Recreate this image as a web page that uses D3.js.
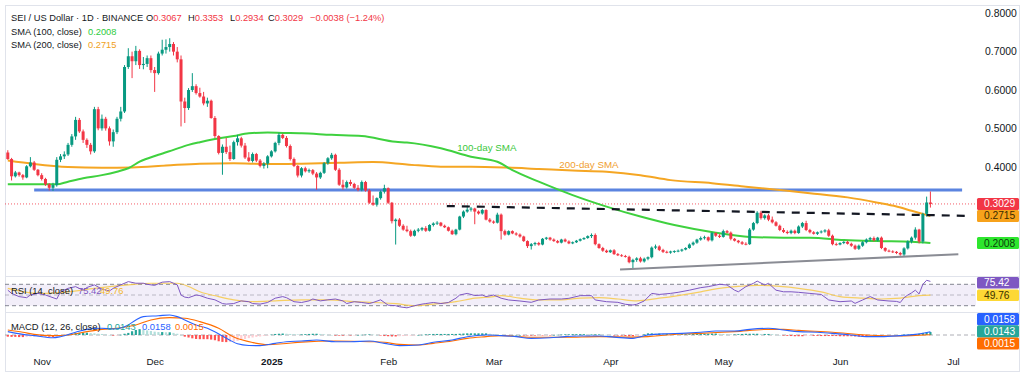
<!DOCTYPE html>
<html><head><meta charset="utf-8">
<script src="https://cdn.jsdelivr.net/npm/d3@7"></script>
<style>
html,body{margin:0;padding:0;background:#fff;overflow:hidden;}
svg{display:block;font-family:"Liberation Sans",Arial,sans-serif;}
</style></head><body>
<svg id="chart" width="1024" height="377"></svg>
<script>
// ---------------- DATA ----------------
const startDate = "2024-10-23";           // first daily candle
const symbolTitle = "SEI / US Dollar · 1D · BINANCE";
// daily candles [open, high, low, close]
const ohlc = [
[.437,.443,.418,.420],[.420,.423,.364,.375],[.375,.389,.372,.385],[.385,.387,.374,.378],[.378,.381,.366,.372],
[.372,.404,.370,.401],[.401,.425,.398,.411],[.411,.415,.389,.392],[.392,.394,.375,.378],[.378,.383,.364,.368],
[.368,.371,.350,.354],[.354,.357,.338,.345],[.345,.358,.337,.352],[.352,.425,.348,.418],[.418,.433,.412,.427],
[.427,.440,.420,.432],[.432,.462,.428,.457],[.457,.485,.452,.479],[.479,.530,.470,.522],[.522,.527,.488,.492],
[.492,.497,.462,.470],[.470,.474,.449,.457],[.457,.462,.432,.440],[.440,.556,.436,.550],[.550,.556,.495,.500],
[.500,.536,.494,.525],[.525,.530,.494,.500],[.500,.505,.455,.466],[.466,.497,.452,.490],[.490,.530,.485,.525],
[.525,.556,.518,.544],[.544,.665,.540,.660],[.660,.709,.655,.688],[.688,.700,.631,.675],[.675,.715,.665,.702],
[.702,.706,.655,.665],[.665,.686,.654,.668],[.668,.690,.660,.683],[.683,.690,.645,.652],[.652,.660,.595,.644],
[.644,.700,.640,.695],[.695,.731,.690,.705],[.705,.732,.695,.712],[.712,.735,.700,.720],[.720,.725,.690,.700],
[.700,.712,.672,.680],[.680,.690,.505,.570],[.570,.580,.514,.553],[.553,.605,.548,.600],[.600,.644,.595,.610],
[.610,.615,.588,.592],[.592,.606,.580,.583],[.583,.595,.560,.565],[.565,.580,.556,.572],[.572,.575,.525,.527],
[.527,.532,.475,.480],[.480,.482,.432,.436],[.436,.458,.379,.452],[.452,.475,.433,.438],[.438,.455,.415,.420],
[.420,.468,.418,.464],[.464,.483,.455,.474],[.474,.478,.450,.455],[.455,.462,.420,.424],[.424,.438,.412,.415],
[.415,.437,.411,.433],[.433,.436,.412,.416],[.416,.420,.398,.402],[.402,.412,.395,.408],[.408,.430,.396,.427],
[.427,.443,.424,.440],[.440,.465,.437,.462],[.462,.488,.456,.483],[.483,.486,.472,.475],[.475,.480,.450,.454],
[.454,.458,.416,.420],[.420,.424,.399,.402],[.402,.404,.372,.377],[.377,.399,.372,.396],[.396,.400,.385,.388],
[.388,.395,.384,.391],[.391,.394,.378,.382],[.382,.386,.340,.372],[.372,.387,.368,.384],[.384,.412,.381,.409],
[.409,.425,.405,.422],[.422,.436,.418,.431],[.431,.434,.389,.392],[.392,.396,.350,.353],[.353,.366,.340,.346],
[.346,.364,.343,.360],[.360,.366,.350,.355],[.355,.358,.342,.345],[.345,.352,.336,.340],[.340,.364,.336,.360],
[.360,.363,.335,.338],[.338,.342,.303,.306],[.306,.325,.298,.301],[.301,.320,.296,.318],[.318,.338,.314,.335],
[.335,.353,.330,.344],[.344,.346,.303,.306],[.306,.308,.252,.258],[.258,.265,.197,.262],[.262,.266,.243,.246],
[.246,.250,.233,.236],[.236,.246,.229,.232],[.232,.236,.217,.220],[.220,.236,.218,.233],[.233,.240,.229,.236],
[.236,.243,.232,.240],[.240,.245,.230,.233],[.233,.250,.231,.248],[.248,.255,.244,.252],[.252,.258,.248,.254],
[.254,.256,.244,.246],[.246,.249,.240,.242],[.242,.244,.231,.233],[.233,.236,.222,.224],[.224,.238,.221,.236],
[.236,.272,.234,.270],[.270,.286,.266,.283],[.283,.299,.280,.288],[.288,.295,.283,.291],[.291,.293,.250,.283],
[.283,.286,.275,.278],[.278,.290,.275,.287],[.287,.289,.260,.262],[.262,.266,.254,.257],[.257,.260,.251,.254],
[.254,.280,.252,.275],[.275,.278,.210,.232],[.232,.236,.220,.223],[.223,.234,.221,.232],[.232,.234,.224,.226],
[.226,.229,.220,.223],[.223,.226,.215,.218],[.218,.220,.204,.206],[.206,.208,.188,.193],[.193,.201,.184,.198],
[.198,.204,.194,.201],[.201,.204,.194,.197],[.197,.214,.195,.212],[.212,.217,.209,.215],[.215,.217,.207,.210],
[.210,.213,.204,.206],[.206,.209,.200,.202],[.202,.212,.200,.210],[.210,.213,.203,.205],[.205,.208,.198,.200],
[.200,.205,.198,.203],[.203,.209,.201,.207],[.207,.213,.205,.211],[.211,.216,.209,.214],[.214,.221,.212,.219],
[.219,.226,.214,.222],[.222,.226,.195,.198],[.198,.200,.186,.188],[.188,.191,.178,.181],[.181,.184,.175,.177],
[.177,.184,.175,.182],[.182,.185,.170,.172],[.172,.175,.167,.169],[.169,.172,.165,.167],[.167,.170,.163,.165],
[.165,.168,.148,.151],[.151,.160,.134,.157],[.157,.164,.152,.161],[.161,.165,.150,.153],[.153,.163,.150,.160],
[.160,.166,.156,.164],[.164,.192,.161,.189],[.189,.197,.185,.192],[.192,.195,.180,.183],[.183,.186,.175,.178],
[.178,.181,.174,.176],[.176,.181,.173,.179],[.179,.182,.175,.180],[.180,.184,.177,.181],[.181,.186,.178,.184],
[.184,.190,.182,.188],[.188,.200,.186,.197],[.197,.205,.194,.202],[.202,.212,.199,.210],[.210,.218,.207,.214],
[.214,.220,.210,.216],[.216,.218,.205,.208],[.208,.230,.205,.227],[.227,.229,.217,.220],[.220,.224,.214,.217],
[.217,.236,.215,.232],[.232,.235,.226,.228],[.228,.231,.208,.212],[.212,.214,.205,.207],[.207,.209,.200,.203],
[.203,.206,.196,.199],[.199,.203,.195,.198],[.198,.240,.196,.236],[.236,.256,.233,.253],[.253,.284,.250,.280],
[.280,.285,.262,.266],[.266,.276,.262,.273],[.273,.277,.258,.262],[.262,.270,.252,.255],[.255,.258,.244,.246],
[.246,.249,.232,.235],[.235,.240,.227,.230],[.230,.234,.224,.227],[.227,.236,.224,.233],[.233,.236,.224,.227],
[.227,.247,.225,.244],[.244,.256,.240,.253],[.253,.259,.232,.235],[.235,.238,.226,.229],[.229,.232,.223,.225],
[.225,.231,.222,.229],[.229,.234,.226,.231],[.231,.237,.228,.234],[.234,.238,.217,.220],[.220,.223,.195,.198],
[.198,.202,.194,.197],[.197,.203,.195,.201],[.201,.206,.198,.204],[.204,.207,.197,.199],[.199,.202,.191,.194],
[.194,.197,.183,.186],[.186,.197,.183,.194],[.194,.206,.191,.203],[.203,.213,.200,.210],[.210,.217,.206,.214],
[.214,.218,.205,.208],[.208,.217,.205,.215],[.215,.218,.185,.188],[.188,.190,.178,.181],[.181,.184,.177,.179],
[.179,.182,.175,.178],[.178,.180,.172,.175],[.175,.178,.168,.171],[.171,.190,.166,.187],[.187,.208,.184,.205],
[.205,.218,.200,.215],[.215,.242,.210,.236],[.236,.238,.200,.205],[.205,.280,.200,.277],[.277,.322,.270,.3067],
[.3067,.3353,.2934,.3029]
];
// moving averages: [day offset from startDate, value]
const sma100Points = [[0,.354],[13,.354],[16,.361],[20,.370],[25,.378],[29,.387],[32,.396],[35,.413],[40,.431],[44,.444],[48,.457],[51,.464],[55,.472],[60,.480],[64,.487],[69,.489],[73,.488],[78,.487],[86,.483],[94,.480],[103,.465],[106,.463],[115,.448],[123,.426],[130,.413],[134,.391],[141,.361],[150,.326],[159,.296],[168,.270],[177,.248],[188,.228],[197,.217],[206,.215],[213,.215],[222,.209],[231,.206],[240,.204],[245,.2008]];
const sma200Points = [[0,.416],[7,.407],[16,.399],[25,.397],[33,.398],[42,.403],[51,.408],[60,.409],[69,.407],[78,.408],[88,.410],[97,.412],[106,.406],[115,.400],[123,.400],[132,.398],[141,.394],[150,.390],[159,.387],[168,.378],[176,.365],[187,.357],[196,.348],[205,.339],[213,.331],[223,.320],[231,.306],[236,.296],[240,.285],[245,.2715]];
// RSI (14) and its moving average
const rsiPoints = [[0,59],[1,53],[3,47],[5,45],[6,50],[8,53],[10,50],[12,45],[13,42.5],[14,56],[16,62.5],[18,65.6],[20,59],[21,64],[23,69],[25,61],[27,57.5],[28,62.5],[30,69],[32,75],[34,72],[36,72],[37,70],[39,68],[41,74],[43,75],[44,72],[45,69],[46,50],[47,46],[48,45],[50,50],[51,49],[53,44],[55,41],[57,34],[58,33],[60,34],[62,39],[64,37.5],[65,34],[67,33],[69,36],[71,44],[73,47],[74,45],[76,37.5],[78,36],[80,39],[81,42.5],[83,39],[85,41],[87,42.5],[89,39],[90,34],[92,37.5],[94,36],[96,34],[97,36],[99,41],[101,31],[103,30],[104,28],[106,26],[108,30],[110,33],[111,34],[113,36],[115,34],[117,36],[119,44],[120,50],[122,53],[124,49],[126,50],[127,47],[129,50],[131,44],[133,40.7],[136,38.8],[139,36.3],[141,40.7],[144,42.5],[147,42.5],[149,43.8],[152,48.8],[155,48.8],[156,40.7],[159,37.5],[162,36.3],[164,32.6],[166,31.3],[167,32.6],[169,38.8],[171,53],[173,51],[176,53],[178,55],[181,59],[184,63.7],[186,65.6],[189,70],[191,68.7],[193,59],[194,56],[196,65.6],[198,71.8],[199,76],[201,68.7],[202,71.8],[204,59],[206,56],[208,56],[210,55],[213,53],[216,51],[218,40.7],[221,37.5],[224,38.8],[225,34.4],[227,40.7],[229,47],[231,40.7],[234,38.8],[236,38],[237,36],[238,45],[239,50],[240,54],[241,59],[242,52],[243,70],[244,77.5],[245,75.42]];
const rsiMaPoints = [[0,62.5],[8,53],[16,56],[23,62.5],[32,69],[38,72],[45,72],[48,66],[51,56],[56,47],[60,41],[65,37.5],[71,39],[78,41],[85,41],[92,37.5],[97,36],[103,34],[108,30],[113,33],[119,37.5],[124,44],[129,47],[131,49],[136,44],[141,41],[147,41],[152,44],[157,45],[162,42.5],[167,39],[173,44],[178,49],[184,56],[189,62.5],[194,66],[199,68],[205,66],[210,62.5],[216,56],[221,47],[227,44],[232,42.5],[237,44],[242,49],[245,49.76]];
const rsiLevels = [70, 50, 30];
// MACD (12, 26)
const macdPoints = [[0,.016],[4,.003],[7,-.003],[12,-.013],[14,-.008],[18,.013],[21,.027],[25,.032],[28,.029],[32,.048],[34,.072],[36,.088],[40,.092],[43,.096],[45,.088],[47,.072],[50,.048],[53,.032],[57,-.005],[59,-.025],[61,-.042],[64,-.050],[67,-.051],[71,-.040],[74,-.032],[78,-.029],[82,-.024],[87,-.032],[91,-.032],[96,-.029],[100,-.040],[104,-.051],[109,-.048],[113,-.035],[118,-.024],[122,-.008],[127,0],[131,-.003],[135,-.008],[139,-.016],[144,-.013],[148,-.008],[152,-.005],[157,-.005],[161,-.010],[166,-.016],[170,0],[175,.006],[179,.008],[184,.013],[188,.019],[193,.019],[197,.027],[202,.032],[206,.024],[210,.016],[215,.013],[219,.008],[224,0],[228,-.008],[232,-.008],[237,-.003],[241,.003],[245,.0158]];
const signalPoints = [[0,.024],[4,.013],[7,.003],[12,-.003],[16,0],[21,.016],[25,.027],[29,.032],[34,.048],[38,.072],[43,.083],[47,.080],[51,.064],[56,.032],[60,-.010],[65,-.036],[69,-.046],[73,-.042],[78,-.034],[87,-.029],[96,-.032],[100,-.035],[104,-.045],[109,-.048],[113,-.040],[118,-.029],[122,-.016],[127,-.008],[131,-.003],[139,-.011],[148,-.011],[157,-.008],[166,-.010],[170,-.008],[175,0],[184,.008],[193,.016],[202,.027],[206,.027],[210,.022],[219,.013],[228,0],[237,-.005],[241,-.002],[245,.0015]];
const histUnit = 0.001;   // histogram values below are in thousandths
const macdHist = [
-8,-9,-9,-10,-10,-9,-8,-7,-6,-6, -7,-8,-10,-9,-7,-3,1,5,10,11, 11,11,9,8,6,5,3,0,-3,-2,
1,6,10,18,24,28,27,22,19,16, 14,14,13,13,10,6,0,-8,-12,-16, -19,-20,-20,-20,-22,-25,-30,-33,-34,-33,
-32,-28,-24,-19,-15,-12,-9,-7,-4,-1, 2,5,6,7,6,5,4,3,3,4, 5,6,6,5,3,1,0,-3,-3,-3,
-2,-2,-1,0,1,2,3,2,0,-2, -5,-6,-7,-7,-6,-5,-4,-3,-1,0, 1,3,4,5,5,5,5,5,5,5,
6,7,8,8,8,8,8,8,6,4, 2,0,-1,-1,0,0,0,-1,-2,-3, -3,-2,-2,-1,-1,0,1,2,3,3,
4,4,4,4,3,3,3,3,2,1, 0,-1,-2,-3,-5,-6,-6,-4,-1,3, 8,8,7,7,6,6,5,5,4,4,
4,4,5,5,5,6,6,7,7,6, 5,4,3,3,4,5,6,6,6,6, 5,5,5,4,2,0,-3,-4,-5,-6,
-6,-6,-5,-4,-4,-4,-5,-5,-5,-5, -5,-6,-6,-6,-6,-7,-8,-8,-8,-7, -6,-5,-5,-4,-3,-2,-1,0,2,2,
3,3,6,10,13,14.3];
// drawn levels / trend lines: [date, price]
const resistanceLine = [["2024-10-30T00:00Z", .339], ["2025-07-03T10:00Z", .339]];
const fallingLine    = [["2025-02-16T14:00Z", .2974], ["2025-07-04T05:00Z", .272]];
const supportLine    = [["2025-04-03T14:00Z", .132], ["2025-07-02T10:00Z", .172]];
const annotations = [
  {text:"100-day SMA", date:"2025-02-27T05:00Z", price:.451, color:"#3cc83c"},
  {text:"200-day SMA", date:"2025-03-26T08:00Z", price:.407, color:"#f0a030"}
];
const priceTicks = [0.4, 0.5, 0.6, 0.7, 0.8];
const tickDates  = ["2024-11-01","2024-12-01","2025-01-01","2025-02-01","2025-03-01","2025-04-01","2025-05-01","2025-06-01","2025-07-01"];
const tickLabels = ["Nov","Dec","2025","Feb","Mar","Apr","May","Jun","Jul"];

// ---------------- LAYOUT ----------------
const W = 1024, H = 377;
const plotL = 5, plotR = 976;
const paneMain = {top:5, bottom:276.5}, paneRsi = {top:277, bottom:312.5}, paneMacd = {top:313, bottom:347.5};
const C = {up:"#089981", down:"#f23645", sma100:"#3fd13f", sma200:"#f5a623", text:"#131722",
  rsi:"#7e57c2", rsiMa:"#f7c948", macd:"#2962ff", signal:"#ff6d00", hist:"#26a69a", grid:"#e0e3eb", level:"#5b84e0"};
const FONT = 9.4, FONT_MAIN = 9.3, FONT_AXIS = 10.4;

const svg = d3.select("#chart");
const t0 = d3.utcParse("%Y-%m-%d")(startDate);
const dayToDate = d => new Date(+t0 + d*864e5);
const parseAny = s => s.length > 10 ? d3.isoParse(s) : d3.utcParse("%Y-%m-%d")(s);

const x = d3.scaleUtc().domain([t0, parseAny("2025-07-01")]).range([7.8, 953]);
const y = d3.scaleLinear().domain([0.4, 0.8]).range([166.7, 13.3]);
const yR = d3.scaleLinear().domain([30, 70]).range([305.7, 284.3]);
const yM = d3.scaleLinear().domain([0, 0.1]).range([335, 314.1]);

const defs = svg.append("defs");
function clip(id, p){ defs.append("clipPath").attr("id", id).append("rect")
  .attr("x", plotL).attr("y", p.top).attr("width", plotR-plotL).attr("height", p.bottom-p.top); }
clip("cMain", paneMain); clip("cRsi", paneRsi); clip("cMacd", paneMacd);

// frame & separators
svg.append("rect").attr("x",5.5).attr("y",5.5).attr("width",1014).attr("height",366).attr("fill","none").attr("stroke",C.grid);
[paneMain.bottom, paneRsi.bottom].forEach(v => svg.append("line").attr("x1",5).attr("x2",1020)
  .attr("y1",v).attr("y2",v).attr("stroke",C.grid));

// ---------------- MAIN PANE ----------------
const gMain = svg.append("g").attr("clip-path","url(#cMain)");
const candles = ohlc.map((d,i) => ({date: dayToDate(i), o:d[0], h:d[1], l:d[2], c:d[3]}));
const lastC = candles[candles.length-1];

gMain.append("line")
  .attr("x1", x(parseAny(resistanceLine[0][0]))).attr("x2", x(parseAny(resistanceLine[1][0])))
  .attr("y1", y(resistanceLine[0][1])).attr("y2", y(resistanceLine[1][1]))
  .attr("stroke", C.level).attr("stroke-width", 3);
gMain.append("line").attr("x1", plotL).attr("x2", plotR).attr("y1", y(lastC.c)).attr("y2", y(lastC.c))
  .attr("stroke", C.down).attr("stroke-width", 1).attr("stroke-dasharray","1,2").attr("opacity",0.8);

const lineMain = d3.line().x(d => x(dayToDate(d[0]))).y(d => y(d[1])).curve(d3.curveMonotoneX);
gMain.append("path").attr("d", lineMain(sma200Points)).attr("fill","none").attr("stroke",C.sma200).attr("stroke-width",2);
gMain.append("path").attr("d", lineMain(sma100Points)).attr("fill","none").attr("stroke",C.sma100).attr("stroke-width",2);

gMain.selectAll("line.wick").data(candles).join("line").attr("class","wick")
  .attr("x1", d => x(d.date)).attr("x2", d => x(d.date))
  .attr("y1", d => y(d.h)).attr("y2", d => y(d.l))
  .attr("stroke", d => d.c >= d.o ? C.up : C.down).attr("stroke-width", 1);
gMain.selectAll("rect.body").data(candles).join("rect").attr("class","body")
  .attr("x", d => x(d.date) - 1.5).attr("width", 3)
  .attr("y", d => y(Math.max(d.o, d.c)))
  .attr("height", d => Math.max(0.9, Math.abs(y(d.o) - y(d.c))))
  .attr("fill", d => d.c >= d.o ? C.up : C.down);

const segLine = d3.line().x(d => x(parseAny(d[0]))).y(d => y(d[1]));
gMain.append("path").attr("d", segLine(fallingLine)).attr("stroke","#131722").attr("stroke-width",2.2)
  .attr("stroke-dasharray","8,7").attr("fill","none");
gMain.append("path").attr("d", segLine(supportLine)).attr("stroke","#8a8c94").attr("stroke-width",2).attr("fill","none");

annotations.forEach(a => gMain.append("text").attr("x", x(parseAny(a.date))).attr("y", y(a.price))
  .attr("text-anchor","middle").attr("dominant-baseline","central").attr("font-size",9.8)
  .attr("fill", a.color).text(a.text));

const yAxis = d3.axisRight(y).tickValues(priceTicks).tickFormat(d3.format(".4f")).tickSize(0).tickPadding(8);
const gy = svg.append("g").attr("transform", `translate(${plotR+1},0)`).call(yAxis);
gy.select(".domain").remove();
gy.selectAll("text").attr("font-size", FONT_AXIS).attr("fill", C.text).attr("font-family","Liberation Sans, Arial, sans-serif");

// ---------------- RSI PANE ----------------
const gR = svg.append("g").attr("clip-path","url(#cRsi)");
gR.append("rect").attr("x", plotL).attr("width", plotR-plotL)
  .attr("y", yR(rsiLevels[0])).attr("height", yR(rsiLevels[2]) - yR(rsiLevels[0]))
  .attr("fill", C.rsi).attr("opacity", 0.1);
rsiLevels.forEach((v,i) => gR.append("line").attr("x1",plotL).attr("x2",plotR).attr("y1",yR(v)).attr("y2",yR(v))
  .attr("stroke","#787b86").attr("stroke-dasharray","4,3").attr("opacity", i===1 ? 0.45 : 0.9));
gR.append("path").attr("d", d3.line().x(d => x(dayToDate(d[0]))).y(d => yR(d[1])).curve(d3.curveMonotoneX)(rsiMaPoints))
  .attr("fill","none").attr("stroke",C.rsiMa).attr("stroke-width",1.2).attr("opacity",0.85);
gR.append("path").attr("d", d3.line().x(d => x(dayToDate(d[0]))).y(d => yR(d[1]))(rsiPoints))
  .attr("fill","none").attr("stroke",C.rsi).attr("stroke-width",1);

// ---------------- MACD PANE ----------------
const gM = svg.append("g").attr("clip-path","url(#cMacd)");
gM.append("line").attr("x1",plotL).attr("x2",plotR).attr("y1",yM(0)).attr("y2",yM(0))
  .attr("stroke","#787b86").attr("stroke-dasharray","4,3").attr("opacity",0.6);
const hist = macdHist.map((v,i) => ({date: dayToDate(i), v: v*histUnit, prev: i ? macdHist[i-1]*histUnit : v*histUnit}));
gM.selectAll("rect.h").data(hist).join("rect").attr("class","h")
  .attr("x", d => x(d.date) - 1.1).attr("width", 2.2)
  .attr("y", d => yM(Math.max(0, d.v))).attr("height", d => Math.max(0.5, Math.abs(yM(d.v) - yM(0))))
  .attr("fill", d => d.v >= 0 ? (d.v >= d.prev ? "#26a69a" : "#b2dfdb") : (d.v <= d.prev ? "#ff5252" : "#ffcdd2"));
const lineM = d3.line().x(d => x(dayToDate(d[0]))).y(d => yM(d[1])).curve(d3.curveMonotoneX);
gM.append("path").attr("d", lineM(signalPoints)).attr("fill","none").attr("stroke",C.signal).attr("stroke-width",1.1);
gM.append("path").attr("d", lineM(macdPoints)).attr("fill","none").attr("stroke",C.macd).attr("stroke-width",1.1);

// ---------------- TIME AXIS ----------------
const xAxis = d3.axisBottom(x).tickValues(tickDates.map(parseAny)).tickSize(0).tickPadding(0)
  .tickFormat((d,i) => tickLabels[i]);
const gx = svg.append("g").attr("transform","translate(0,358)").call(xAxis);
gx.select(".domain").remove();
gx.selectAll("text").attr("font-size", 9.8).attr("fill", C.text).attr("font-family","Liberation Sans, Arial, sans-serif")
  .attr("font-weight", (d,i) => tickLabels[i] === "2025" ? "bold" : "normal");

// ---------------- LEGENDS ----------------
// parts: [text, colour, x]
function legend(yPos, parts, size){
  const t = svg.append("text").attr("y", yPos).attr("font-size", size || FONT).attr("dominant-baseline","central");
  parts.forEach(p => t.append("tspan").attr("x", p[2]).attr("fill", p[1] || C.text).text(p[0]));
}
const f4 = d3.format(".4f");
const chg = lastC.c - lastC.o;
const pct = (chg / lastC.o) * 100;
const sgn = v => (v < 0 ? "\u2212" : "+");
legend(17.5, [[symbolTitle, null, 11],
  ["O", null, 146],[f4(lastC.o), C.down],
  ["H", null, 188],[f4(lastC.h), C.down],
  ["L", null, 230],[f4(lastC.l), C.down],
  ["C", null, 268],[f4(lastC.c), C.down],
  [sgn(chg) + f4(Math.abs(chg)) + " (" + sgn(pct) + Math.abs(pct).toFixed(2) + "%)", C.down, 310]], FONT_MAIN);
const lastSma100 = sma100Points[sma100Points.length-1][1], lastSma200 = sma200Points[sma200Points.length-1][1];
legend(31.5, [["SMA (100, close)", null, 11],[f4(lastSma100), "#2ecc40", 88]], FONT_MAIN);
legend(45, [["SMA (200, close)", null, 11],[f4(lastSma200), "#f0a020", 88]], FONT_MAIN);
const lastRsi = rsiPoints[rsiPoints.length-1][1], lastRsiMa = rsiMaPoints[rsiMaPoints.length-1][1];
legend(290, [["RSI (14, close)", null, 11],[lastRsi.toFixed(2), C.rsi, 78],[lastRsiMa.toFixed(2), "#f2b82c", 100]]);
const lastMacd = macdPoints[macdPoints.length-1][1], lastSig = signalPoints[signalPoints.length-1][1];
const lastHist = macdHist[macdHist.length-1]*histUnit;
legend(326, [["MACD (12, 26, close)", null, 11],[f4(lastHist), C.hist, 107],[f4(lastMacd), C.macd, 142],[f4(lastSig), C.signal, 175]]);

// ---------------- PRICE TAGS ----------------
function tags(items, pane, h){
  items.sort((a,b) => a.y - b.y);
  for (let i=1;i<items.length;i++) if (items[i].y - items[i-1].y < h) items[i].y = items[i-1].y + h;
  const over = items[items.length-1].y + h/2 - (pane.bottom - 2);
  if (over > 0) items.forEach(d => d.y -= over);
  for (let i=0;i<items.length;i++){
    const minY = (i===0 ? pane.top + h/2 : items[i-1].y + h);
    if (items[i].y < minY) items[i].y = minY;
  }
  items.forEach(d => {
    svg.append("rect").attr("x", plotR+1).attr("y", d.y - h/2).attr("width", 42).attr("height", h)
      .attr("rx", 1.5).attr("fill", d.bg);
    svg.append("text").attr("x", plotR+8).attr("y", d.y).attr("dominant-baseline","central")
      .attr("font-size", 10.2).attr("fill", d.fg).text(d.label);
  });
}
tags([
  {y: y(lastC.c), label: f4(lastC.c), bg: "#f23645", fg:"#fff"},
  {y: y(lastSma200), label: f4(lastSma200), bg: "#f7a21b", fg:"#3a2a00"},
  {y: y(lastSma100), label: f4(lastSma100), bg: "#2ee62e", fg:"#0b3d0b"}
], paneMain, 12);
tags([
  {y: yR(lastRsi), label: lastRsi.toFixed(2), bg: C.rsi, fg:"#fff"},
  {y: yR(lastRsiMa), label: lastRsiMa.toFixed(2), bg: "#fdd835", fg:"#3a3000"}
], paneRsi, 11.5);
tags([
  {y: yM(lastMacd), label: f4(lastMacd), bg: C.macd, fg:"#fff"},
  {y: yM(lastHist), label: f4(lastHist), bg: C.hist, fg:"#fff"},
  {y: yM(lastSig), label: f4(lastSig), bg: C.signal, fg:"#fff"}
], paneMacd, 12.2);
</script>
</body></html>
